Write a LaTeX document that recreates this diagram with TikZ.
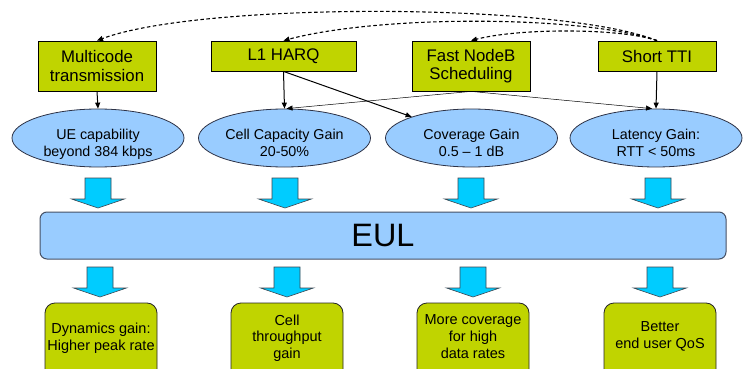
\documentclass[tikz,border=0pt]{standalone}
\usepackage{fontspec}
\setmainfont{Liberation Sans}
\usetikzlibrary{arrows.meta,shapes.geometric}
\definecolor{boxgreen}{RGB}{192,212,0}
\definecolor{ellblue}{RGB}{153,204,255}
\definecolor{ellborder}{RGB}{45,50,70}
\definecolor{arrcyan}{RGB}{0,204,255}
\definecolor{arrborder}{RGB}{60,70,80}
\definecolor{eulborder}{RGB}{70,80,100}
\tikzset{
  topbox/.style={draw=black, line width=0.8pt, fill=boxgreen, inner sep=0pt, align=center, font=\fontsize{16.8}{18.4}\selectfont},
  gainell/.style={ellipse, draw=ellborder, line width=0.8pt, fill=ellblue, minimum width=172pt, minimum height=58pt, inner sep=0pt},
  elltext/.style={align=center, font=\fontsize{14.3}{17.4}\selectfont, inner sep=0pt},
  eulbox/.style={draw=eulborder, line width=1pt, fill=ellblue, rounded corners=7pt, minimum width=686pt, minimum height=47pt, inner sep=0pt, font=\fontsize{32.4}{36}\selectfont},
  resbox/.style={draw=black!85, line width=0.8pt, fill=boxgreen, rounded corners=10pt, minimum width=112pt, minimum height=80pt, inner sep=0pt},
  restext/.style={align=center, font=\fontsize{14.5}{16.7}\selectfont, inner sep=0pt},
  solidarr/.style={-{Triangle[length=6pt,width=5pt]}, line width=1pt},
  thinarr/.style={-{Triangle[length=6pt,width=5pt]}, line width=0.5pt},
  dasharr/.style={-{Triangle[length=6pt,width=5pt]}, line width=1.1pt, dash pattern=on 3.5pt off 2.5pt},
  barrow/.style={draw=arrborder, line width=0.6pt, fill=arrcyan},
  blockarrow/.pic={\path[barrow] (-13,0) -- (13,0) -- (13,21) -- (26.5,21) -- (0,30) -- (-26.5,21) -- (-13,21) -- cycle;}
}
\begin{document}
\begin{tikzpicture}[x=1pt,y=-1pt]
\useasboundingbox (0,0) rectangle (750,369);
\clip (0,0) rectangle (750,369);
\fill[white] (0,0) rectangle (750,369);

% top boxes
\node[topbox, minimum width=118pt, minimum height=50pt] (mc) at (97,66) {Multicode\\transmission};
\node[topbox, minimum width=145pt, minimum height=30pt] (l1) at (283.5,56) {L1 HARQ};
\node[topbox, minimum width=118pt, minimum height=50pt] (fn) at (471,66) {Fast NodeB\\Scheduling};
\node[topbox, minimum width=118pt, minimum height=30pt] (st) at (657,56) {Short TTI};

% gain ellipses
\node[gainell] (e1) at (98,138) {};
\node[gainell] (e2) at (284.5,138) {};
\node[gainell] (e3) at (471.5,138) {};
\node[gainell] (e4) at (656,138) {};
\node[elltext] (e1t) at (98,144.5) {UE capability\\beyond 384 kbps};
\node[elltext] (e2t) at (284.5,143) {Cell Capacity Gain\\20-50\%};
\node[elltext] (e3t) at (471.5,143) {Coverage Gain\\0.5 – 1 dB};
\node[elltext] (e4t) at (656,143) {Latency Gain:\\RTT < 50ms};

% dashed curves
\draw[dasharr] (st.north) .. controls (560,2) and (200,2) .. (mc.north);
\draw[dasharr] (st.north) .. controls (580,15) and (380,15) .. (l1.north);
\draw[dasharr] (st.north) .. controls (620,28) and (520,28) .. (fn.north);

% solid connectors
\draw[solidarr] (mc.south) -- (e1.north);
\draw[solidarr] (l1.south) -- (e2.north);
\draw[solidarr] (l1.south) -- (e3);
\draw[thinarr] (fn.south) -- ([xshift=2pt]e2.north);
\draw[thinarr] (fn.south) -- ([xshift=-4pt]e4.north);
\draw[solidarr] (st.south) -- (e4.north);

% block arrows into EUL
\pic (a1) at (98,178) {blockarrow};
\pic (a2) at (285,178) {blockarrow};
\pic (a3) at (471,178) {blockarrow};
\pic (a4) at (658,178) {blockarrow};

% EUL
\node[eulbox] (eul) at (383,235.5) {EUL};

% block arrows out of EUL
\pic (c1) at (100,267) {blockarrow};
\pic (c2) at (287,267) {blockarrow};
\pic (c3) at (473,267) {blockarrow};
\pic (c4) at (660,267) {blockarrow};

% result boxes
\node[resbox] (b1) at (101,343) {};
\node[resbox] (b2) at (287,343) {};
\node[resbox] (b3) at (473,343) {};
\node[resbox] (b4) at (660,343) {};
\node[restext] (b1t) at (101,338) {Dynamics gain:\\Higher peak rate};
\node[restext] (b2t) at (287,338) {Cell\\throughput\\gain};
\node[restext] (b3t) at (473,336.4) {More coverage\\for high\\data rates};
\node[restext] (b4t) at (660,336.5) {Better\\end user QoS};
\end{tikzpicture}
\end{document}
